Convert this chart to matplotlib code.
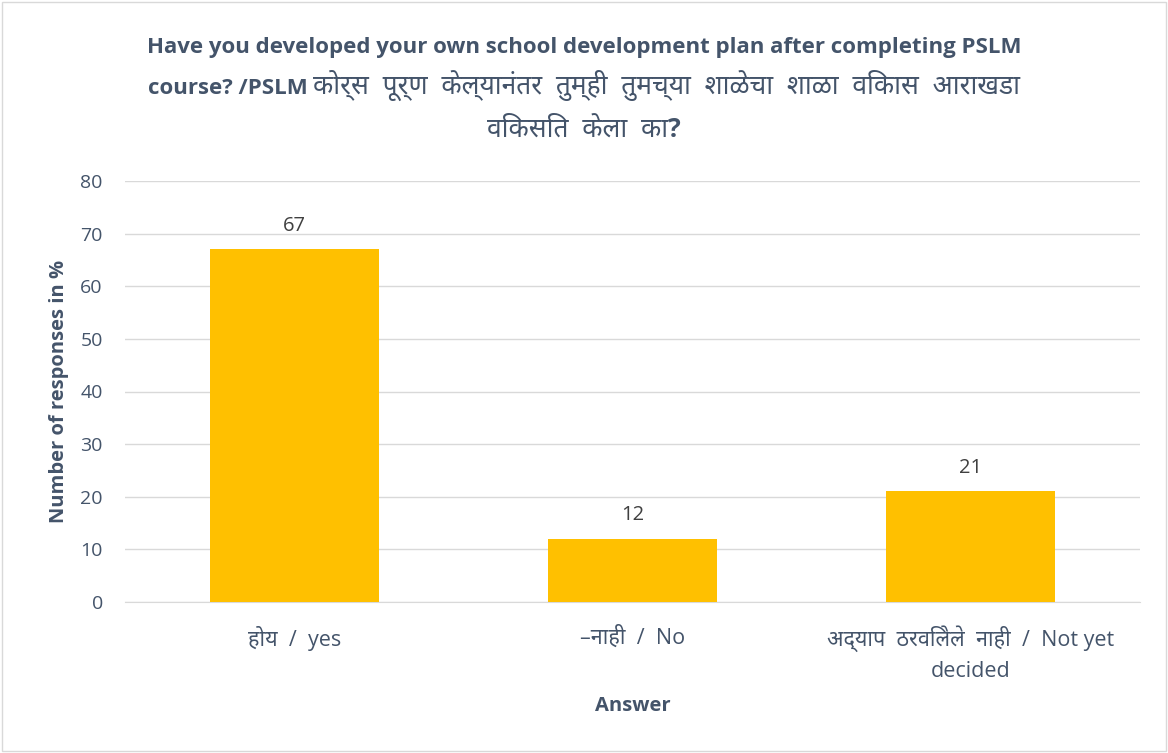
import matplotlib as mpl
mpl.use('Agg')
import matplotlib.pyplot as plt
from matplotlib.patches import Rectangle

categories = ["होय  /  yes", "–नाही  /  No", "अद्याप  ठरविलेले  नाही  /  Not yet\ndecided"]
values = [67, 12, 21]
yticks = [0, 10, 20, 30, 40, 50, 60, 70, 80]
title_l1 = "Have you developed your own school development plan after completing PSLM"
title_l2a = "course? /PSLM "
title_l2b = "कोर्स  पूर्ण  केल्यानंतर  तुम्ही  तुमच्या  शाळेचा  शाळा  विकास  आराखडा"
title_l3 = "विकसित  केला  का?"

plt.rcParams['font.family'] = ['Open Sans', 'Noto Sans', 'DejaVu Sans']
txt = '#44546A'
W, H = 1168, 753

fig = plt.figure(figsize=(W / 100, H / 100), dpi=100)
fig.patches.append(Rectangle((0.002, 0.002), 0.996, 0.996, transform=fig.transFigure,
                             fill=False, edgecolor='#D9D9D9', linewidth=1))
ax = fig.add_axes([125 / W, 1 - 602 / H, 1015 / W, 421 / H])

x = range(len(categories))
bars = ax.bar(x, values, width=0.5, color='#FFC000', zorder=3)
for b, v in zip(bars, values):
    ax.text(b.get_x() + b.get_width() / 2, v + 2.6, str(v), ha='center', va='bottom',
            fontsize=14.5, color='#404040')

ax.set_xlim(-0.5, 2.5)
ax.set_ylim(0, 80)
ax.set_yticks(yticks)
ax.set_xticks(list(x))
ax.set_xticklabels(categories, fontsize=15.5, color=txt, linespacing=1.55)
ax.tick_params(axis='y', labelsize=14, labelcolor=txt, length=0, pad=16)
ax.tick_params(axis='x', length=0, pad=17)
ax.grid(axis='y', color='#D9D9D9', linewidth=1, zorder=0)
for s in ['top', 'right', 'left']:
    ax.spines[s].set_visible(False)
ax.spines['bottom'].set_color('#D9D9D9')

ax.set_ylabel("Number of responses in %", fontsize=14.5, fontweight='bold', color=txt, labelpad=8)
ax.set_xlabel("Answer", fontsize=14.5, fontweight='bold', color=txt, labelpad=10)

# title: line by line, devanagari part a bit larger like the original
fig.text(0.5, 1 - 53 / H, title_l1, ha='center', va='baseline', fontsize=16,
         fontweight='bold', color=txt)
r = fig.canvas.get_renderer()
ta = fig.text(0, 1 - 94 / H, title_l2a, ha='left', va='baseline', fontsize=16,
              fontweight='bold', color=txt)
tb = fig.text(0, 1 - 94 / H, title_l2b, ha='left', va='baseline', fontsize=19,
              fontweight='bold', color=txt)
wa = ta.get_window_extent(r).width
wb = tb.get_window_extent(r).width
x0 = (W - wa - wb) / 2
ta.set_x(x0 / W)
tb.set_x((x0 + wa) / W)
fig.text(0.5, 1 - 137 / H, title_l3, ha='center', va='baseline', fontsize=19,
         fontweight='bold', color=txt)

fig.savefig('out.png', dpi=100)
